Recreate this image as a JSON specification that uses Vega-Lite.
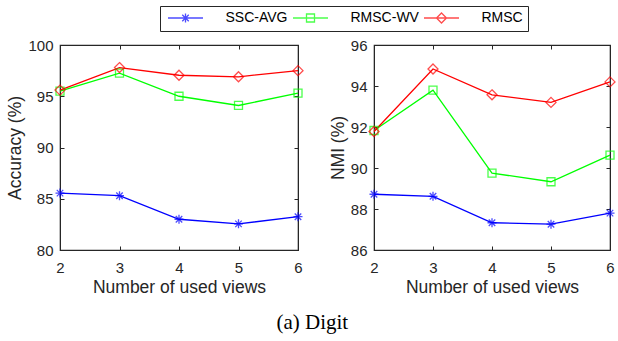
{
  "$schema": "https://vega.github.io/schema/vega-lite/v6.json",
  "padding": {"left": 6, "top": 5, "right": 2, "bottom": 4},
  "background": "white",
  "datasets": {
    "acc": [
      {"views": 2, "series": "SSC-AVG", "value": 85.55},
      {"views": 3, "series": "SSC-AVG", "value": 85.3},
      {"views": 4, "series": "SSC-AVG", "value": 83.0},
      {"views": 5, "series": "SSC-AVG", "value": 82.55},
      {"views": 6, "series": "SSC-AVG", "value": 83.25},
      {"views": 2, "series": "RMSC-WV", "value": 95.5},
      {"views": 3, "series": "RMSC-WV", "value": 97.25},
      {"views": 4, "series": "RMSC-WV", "value": 95.0},
      {"views": 5, "series": "RMSC-WV", "value": 94.1},
      {"views": 6, "series": "RMSC-WV", "value": 95.3},
      {"views": 2, "series": "RMSC", "value": 95.6},
      {"views": 3, "series": "RMSC", "value": 97.8},
      {"views": 4, "series": "RMSC", "value": 97.05},
      {"views": 5, "series": "RMSC", "value": 96.9},
      {"views": 6, "series": "RMSC", "value": 97.5}
    ],
    "nmi": [
      {"views": 2, "series": "SSC-AVG", "value": 88.72},
      {"views": 3, "series": "SSC-AVG", "value": 88.62},
      {"views": 4, "series": "SSC-AVG", "value": 87.33},
      {"views": 5, "series": "SSC-AVG", "value": 87.26},
      {"views": 6, "series": "SSC-AVG", "value": 87.8},
      {"views": 2, "series": "RMSC-WV", "value": 91.83},
      {"views": 3, "series": "RMSC-WV", "value": 93.8},
      {"views": 4, "series": "RMSC-WV", "value": 89.75},
      {"views": 5, "series": "RMSC-WV", "value": 89.33},
      {"views": 6, "series": "RMSC-WV", "value": 90.63},
      {"views": 2, "series": "RMSC", "value": 91.78},
      {"views": 3, "series": "RMSC", "value": 94.83},
      {"views": 4, "series": "RMSC", "value": 93.57},
      {"views": 5, "series": "RMSC", "value": 93.2},
      {"views": 6, "series": "RMSC", "value": 94.2}
    ]
  },
  "title": {"text": "(a) Digit", "orient": "bottom", "anchor": "middle", "font": "Liberation Serif", "fontSize": 21, "fontWeight": "normal", "color": "#000000", "offset": 16},
  "spacing": 21,
  "hconcat": [
    {
      "width": 238,
      "height": 205,
      "data": {"name": "acc"},
      "resolve": {"axis": {"x": "independent", "y": "independent"}},
      "layer": [
        {
          "mark": {"type": "line", "strokeWidth": 1.3},
          "encoding": {
            "x": {"field": "views", "type": "quantitative", "scale": {"domain": [2, 6], "nice": false, "zero": false}, "axis": {"orient": "bottom", "values": [2, 3, 4, 5, 6], "title": "Number of used views", "format": "d"}},
            "y": {"field": "value", "type": "quantitative", "scale": {"domain": [80, 100], "nice": false, "zero": false}, "axis": {"orient": "left", "values": [80, 85, 90, 95, 100], "title": "Accuracy (%)"}},
            "color": {"field": "series", "type": "nominal", "scale": {"domain": ["SSC-AVG", "RMSC-WV", "RMSC"], "range": ["#0000FF", "#00FF00", "#FF0000"]}}
          }
        },
        {
          "transform": [{"filter": "datum.series == 'SSC-AVG'"}],
          "mark": {"type": "point", "shape": "M-0.9,0L0.9,0M0,-0.9L0,0.9M-0.65,-0.65L0.65,0.65M-0.65,0.65L0.65,-0.65", "size": 100, "filled": false, "color": "#0000FF", "strokeWidth": 1.3},
          "encoding": {
            "x": {"field": "views", "type": "quantitative", "axis": {"orient": "top", "values": [2, 3, 4, 5, 6], "labels": false, "title": null}},
            "y": {"field": "value", "type": "quantitative", "axis": {"orient": "right", "values": [80, 85, 90, 95, 100], "labels": false, "title": null}}
          }
        },
        {
          "transform": [{"filter": "datum.series == 'RMSC-WV'"}],
          "mark": {"type": "point", "shape": "M-0.8,-0.8L0.8,-0.8L0.8,0.8L-0.8,0.8Z", "size": 100, "filled": false, "color": "#00FF00", "strokeWidth": 1.3},
          "encoding": {
            "x": {"field": "views", "type": "quantitative", "axis": null},
            "y": {"field": "value", "type": "quantitative", "axis": null}
          }
        },
        {
          "transform": [{"filter": "datum.series == 'RMSC'"}],
          "mark": {"type": "point", "shape": "M0,-1L1,0L0,1L-1,0Z", "size": 100, "filled": false, "color": "#FF0000", "strokeWidth": 1.3},
          "encoding": {
            "x": {"field": "views", "type": "quantitative", "axis": null},
            "y": {"field": "value", "type": "quantitative", "axis": null}
          }
        },
        {
          "transform": [{"filter": "datum.views > 100"}],
          "mark": {"type": "point", "size": 100, "filled": false, "strokeWidth": 1.3},
          "encoding": {
            "x": {"field": "views", "type": "quantitative", "axis": null},
            "y": {"field": "value", "type": "quantitative", "axis": null},
            "color": {"field": "series", "type": "nominal", "scale": {"domain": ["SSC-AVG", "RMSC-WV", "RMSC"], "range": ["#0000FF", "#00FF00", "#FF0000"]}, "legend": {"title": null, "orient": "none", "direction": "horizontal", "legendX": 100, "legendY": -39}},
            "shape": {"field": "series", "type": "nominal", "scale": {"domain": ["SSC-AVG", "RMSC-WV", "RMSC"], "range": [
              "M-3.5,0L3.5,0M0,-0.9L0,0.9M-0.65,-0.65L0.65,0.65M-0.65,0.65L0.65,-0.65",
              "M-3.5,0L3.5,0M-0.8,-0.8L0.8,-0.8L0.8,0.8L-0.8,0.8Z",
              "M-3.5,0L3.5,0M0,-1L1,0L0,1L-1,0Z"
            ]}, "legend": {"title": null, "orient": "none", "direction": "horizontal", "legendX": 100, "legendY": -39}}
          }
        }
      ]
    },
    {
      "width": 236,
      "height": 205,
      "data": {"name": "nmi"},
      "resolve": {"axis": {"x": "independent", "y": "independent"}},
      "layer": [
        {
          "mark": {"type": "line", "strokeWidth": 1.3},
          "encoding": {
            "x": {"field": "views", "type": "quantitative", "scale": {"domain": [2, 6], "nice": false, "zero": false}, "axis": {"orient": "bottom", "values": [2, 3, 4, 5, 6], "title": "Number of used views", "format": "d"}},
            "y": {"field": "value", "type": "quantitative", "scale": {"domain": [86, 96], "nice": false, "zero": false}, "axis": {"orient": "left", "values": [86, 88, 90, 92, 94, 96], "title": "NMI (%)"}},
            "color": {"field": "series", "type": "nominal", "scale": {"domain": ["SSC-AVG", "RMSC-WV", "RMSC"], "range": ["#0000FF", "#00FF00", "#FF0000"]}}
          }
        },
        {
          "transform": [{"filter": "datum.series == 'SSC-AVG'"}],
          "mark": {"type": "point", "shape": "M-0.9,0L0.9,0M0,-0.9L0,0.9M-0.65,-0.65L0.65,0.65M-0.65,0.65L0.65,-0.65", "size": 100, "filled": false, "color": "#0000FF", "strokeWidth": 1.3},
          "encoding": {
            "x": {"field": "views", "type": "quantitative", "axis": {"orient": "top", "values": [2, 3, 4, 5, 6], "labels": false, "title": null}},
            "y": {"field": "value", "type": "quantitative", "axis": {"orient": "right", "values": [86, 88, 90, 92, 94, 96], "labels": false, "title": null}}
          }
        },
        {
          "transform": [{"filter": "datum.series == 'RMSC-WV'"}],
          "mark": {"type": "point", "shape": "M-0.8,-0.8L0.8,-0.8L0.8,0.8L-0.8,0.8Z", "size": 100, "filled": false, "color": "#00FF00", "strokeWidth": 1.3},
          "encoding": {
            "x": {"field": "views", "type": "quantitative", "axis": null},
            "y": {"field": "value", "type": "quantitative", "axis": null}
          }
        },
        {
          "transform": [{"filter": "datum.series == 'RMSC'"}],
          "mark": {"type": "point", "shape": "M0,-1L1,0L0,1L-1,0Z", "size": 100, "filled": false, "color": "#FF0000", "strokeWidth": 1.3},
          "encoding": {
            "x": {"field": "views", "type": "quantitative", "axis": null},
            "y": {"field": "value", "type": "quantitative", "axis": null}
          }
        }
      ]
    }
  ],
  "config": {
    "font": "Liberation Sans",
    "view": {"stroke": "#262626", "strokeWidth": 1.2},
    "axis": {
      "grid": false,
      "domain": true,
      "domainColor": "#262626",
      "tickColor": "#262626",
      "tickSize": -4,
      "labelFont": "Liberation Sans",
      "labelFontSize": 15,
      "labelColor": "#262626",
      "titleFont": "Liberation Sans",
      "titleFontSize": 17.5,
      "titleFontWeight": "normal",
      "titleColor": "#262626",
      "titlePadding": 3,
      "labelFlush": false,
      "labelOverlap": false
    },
    "axisX": {"labelPadding": 14},
    "axisY": {"labelPadding": 11},
    "legend": {
      "labelFont": "Liberation Sans",
      "labelFontSize": 14,
      "labelColor": "#000000",
      "strokeColor": "#262626",
      "fillColor": "#ffffff",
      "padding": 5,
      "symbolSize": 100,
      "symbolOffset": 13.5,
      "labelOffset": 33,
      "gridAlign": "none",
      "columnPadding": 2,
      "symbolStrokeWidth": 1.3
    }
  }
}
